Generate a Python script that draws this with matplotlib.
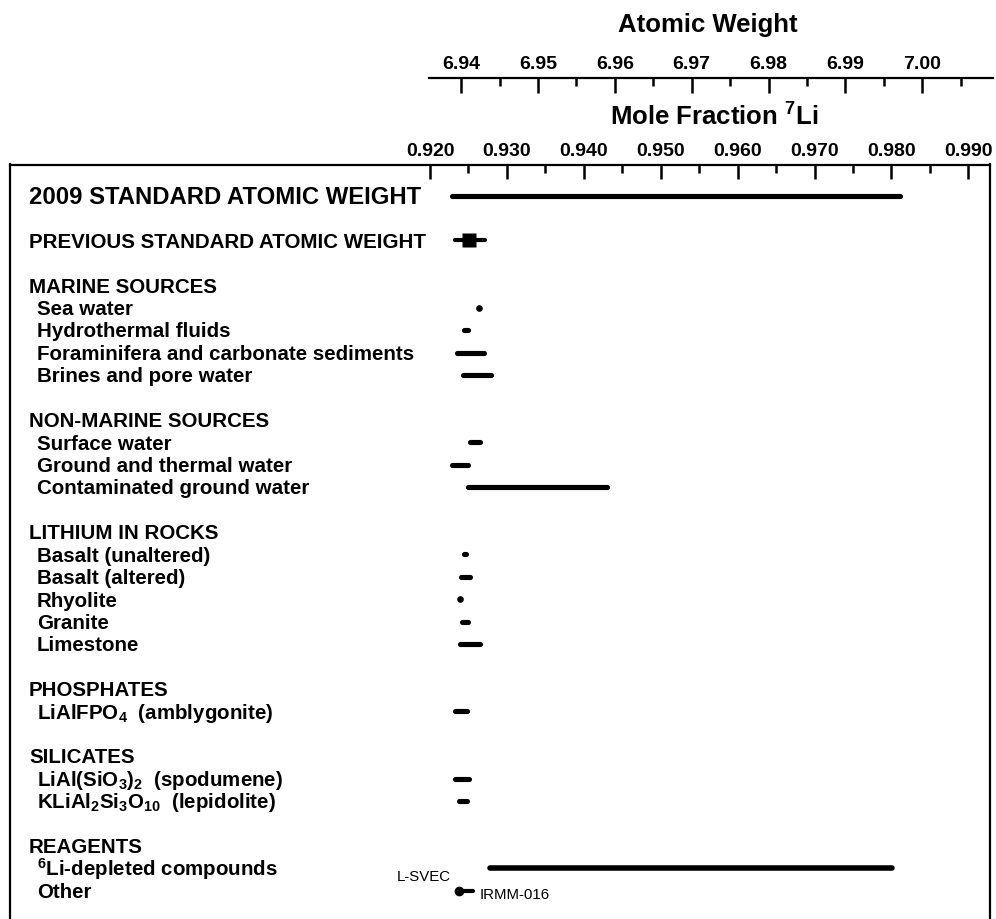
import numpy as np
import matplotlib
matplotlib.use("Agg")
import matplotlib.pyplot as plt
import matplotlib.transforms as mtransforms

plt.rcParams['font.family'] = ['Liberation Sans', 'DejaVu Sans']
plt.rcParams['font.weight'] = 'bold'
plt.rcParams['mathtext.fontset'] = 'custom'
plt.rcParams['mathtext.rm'] = 'Liberation Sans:bold'
plt.rcParams['mathtext.it'] = 'Liberation Sans:bold'
plt.rcParams['mathtext.bf'] = 'Liberation Sans:bold'

# ---- data (mole fraction 7Li) ----
std_2009 = [0.9229, 0.9811]
prev_std = [0.9232, 0.9271]
prev_best = 0.9251

marine_labels = ["Sea water", "Hydrothermal fluids",
                 "Foraminifera and carbonate sediments", "Brines and pore water"]
marine_lo = [0.9264, 0.92445, 0.92349, 0.92427]
marine_hi = [0.9264, 0.92497, 0.92696, 0.92791]

nonmarine_labels = ["Surface water", "Ground and thermal water",
                    "Contaminated ground water"]
nonmarine_lo = [0.92523, 0.92283, 0.92488]
nonmarine_hi = [0.92653, 0.92488, 0.94299]

rock_labels = ["Basalt (unaltered)", "Basalt (altered)", "Rhyolite",
               "Granite", "Limestone"]
rock_lo = [0.92440, 0.92401, 0.92390, 0.92414, 0.92393]
rock_hi = [0.92466, 0.92518, 0.92390, 0.92497, 0.92648]

phos_labels = [r"LiAlFPO$_4$  (amblygonite)"]
phos_lo = [0.92322]
phos_hi = [0.92479]

sil_labels = [r"LiAl(SiO$_3$)$_2$  (spodumene)",
              r"KLiAl$_2$Si$_3$O$_{10}$  (lepidolite)"]
sil_lo = [0.92322, 0.92375]
sil_hi = [0.92501, 0.92479]

reagent_labels = [r"$^6$Li-depleted compounds", "Other"]
lsvec = [0.92778, 0.98004]
irmm = [0.9238, 0.9256]

mf_ticks = [0.920, 0.930, 0.940, 0.950, 0.960, 0.970, 0.980, 0.990]
mf_minor = [0.925, 0.935, 0.945, 0.955, 0.965, 0.975, 0.985]
aw_ticks = [6.94, 6.95, 6.96, 6.97, 6.98, 6.99, 7.00]
aw_minor = [6.945, 6.955, 6.965, 6.975, 6.985, 6.995, 7.005]

sections = [
    ("2009 STANDARD ATOMIC WEIGHT", [], [], []),
    ("PREVIOUS STANDARD ATOMIC WEIGHT", [], [], []),
    ("MARINE SOURCES", marine_labels, marine_lo, marine_hi),
    ("NON-MARINE SOURCES", nonmarine_labels, nonmarine_lo, nonmarine_hi),
    ("LITHIUM IN ROCKS", rock_labels, rock_lo, rock_hi),
    ("PHOSPHATES", phos_labels, phos_lo, phos_hi),
    ("SILICATES", sil_labels, sil_lo, sil_hi),
    ("REAGENTS", reagent_labels, [], []),
]

# ---- layout ----
W, H = 996, 919
fig = plt.figure(figsize=(W / 100, H / 100), dpi=100)

def fx(px):
    return px / W

def fy(py):
    return 1 - py / H

px_per_unit = 7690.0
x0_px = 430.0
def px2mf(px):
    return 0.920 + (px - x0_px) / px_per_unit

def mf2aw(x):
    # atomic weight of Li from mole fraction of 7Li
    return 6.015122 + (7.016003 - 6.015122) * x

row0_px, row_step = 195.6, 22.42
top_px = 164.5

ax = fig.add_axes([fx(10), 0, fx(990) - fx(10), fy(top_px)])
ax.set_xlim(px2mf(10), px2mf(990))
ax.set_ylim((H - row0_px) / row_step, (top_px - row0_px) / row_step)
ax.xaxis.tick_top()
ax.set_xticks(mf_ticks)
ax.set_xticklabels(["%.3f" % t for t in mf_ticks])
ax.set_xticks(mf_minor, minor=True)
ax.set_yticks([])
ax.tick_params(axis='x', which='major', direction='in', length=10, width=1.8,
               labelsize=14, pad=3.5)
ax.tick_params(axis='x', which='minor', direction='in', length=5.5, width=1.8)
ax.spines['bottom'].set_visible(False)
for s in ['top', 'left', 'right']:
    ax.spines[s].set_linewidth(1.6)

# atomic weight axis
ax2 = fig.add_axes([fx(10), fy(78) - 0.001, fx(996) - fx(10), 0.001])
ax2.set_xlim(mf2aw(px2mf(10)), mf2aw(px2mf(996)))
ax2.patch.set_visible(False)
for s in ['bottom', 'left', 'right']:
    ax2.spines[s].set_visible(False)
ax2.spines['top'].set_linewidth(1.6)
ax2.spines['top'].set_bounds(mf2aw(px2mf(429)), mf2aw(px2mf(993)))
ax2.xaxis.tick_top()
ax2.set_xticks(aw_ticks)
ax2.set_xticklabels(["%.2f" % t for t in aw_ticks])
ax2.set_xticks(aw_minor, minor=True)
ax2.set_yticks([])
ax2.tick_params(axis='x', which='major', direction='in', length=10.5, width=1.8,
                labelsize=14, pad=3.5)
ax2.tick_params(axis='x', which='minor', direction='in', length=5.5, width=1.8)

fig.text(fx(708), fy(25), "Atomic Weight", ha='center', va='center', fontsize=18.5)
fig.text(fx(714), fy(117), r"Mole Fraction $^{7}$Li", ha='center', va='center',
         fontsize=18.5)

ytrans = ax.get_yaxis_transform()

def label(row, text, x_frac, fs):
    tr = mtransforms.offset_copy(ytrans, fig=fig, y=-0.716 * fs / 2, units='points')
    ax.text(x_frac, row, text, transform=tr, ha='left', va='baseline', fontsize=fs)

def bar(row, lo, hi, lw=3.7):
    if hi - lo < 1e-6:
        ax.plot([lo], [row], 'o', color='black', ms=4.8, mec='none')
    else:
        ax.plot([lo, hi], [row, row], color='black', lw=lw,
                solid_capstyle='round')

head_x = (29 - 10) / 980
item_x = (37 - 10) / 980
head_fs = 14.8

row = 0
for i, (head, items, lo, hi) in enumerate(sections):
    if i == 0:
        label(row, head, head_x, 17.2)
        bar(row, std_2009[0], std_2009[1])
        row += 2
        continue
    label(row, head, head_x, head_fs)
    if i == 1:
        ax.plot(prev_std, [row, row], color='black', lw=3.0, solid_capstyle='round')
        ax.plot([prev_best], [row], 's', color='black', ms=10.5, mec='none')
        row += 2
        continue
    for j, name in enumerate(items):
        r = row + 1 + j
        label(r, name, item_x, head_fs)
        if j < len(lo):
            bar(r, lo[j], hi[j])
    if head == "REAGENTS":
        r1, r2 = row + 1, row + 2
        ax.plot(lsvec, [r1, r1], color='black', lw=4.0, solid_capstyle='round')
        ax.plot(irmm, [r2, r2], color='black', lw=3.0, solid_capstyle='round')
        ax.plot([irmm[0]], [r2], 'o', color='black', ms=7, mec='none')
        ax.annotate("L-SVEC", xy=(lsvec[0], r1), xytext=(-28, -6),
                    textcoords='offset points', ha='right', va='center',
                    fontsize=10.8, fontweight='normal')
        ax.annotate("IRMM-016", xy=(irmm[1], r2), xytext=(5, -3.5),
                    textcoords='offset points', ha='left', va='center',
                    fontsize=10.8, fontweight='normal')
    row += len(items) + 2

fig.savefig("out.png", dpi=100)
